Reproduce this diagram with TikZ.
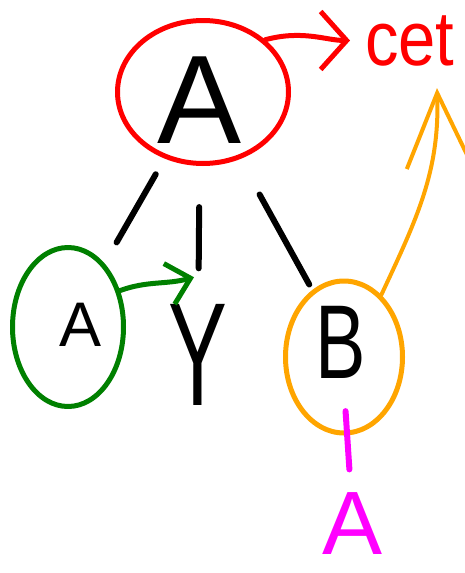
\documentclass[tikz,border=0pt]{standalone}
\usepackage{fontspec}
\setmainfont{Liberation Sans}
\usetikzlibrary{arrows.meta,calc,shapes.geometric}
\definecolor{ringred}{RGB}{255,0,0}
\definecolor{ringgreen}{RGB}{0,128,0}
\definecolor{ringorange}{RGB}{255,165,0}
\definecolor{linkpink}{RGB}{255,0,255}

\begin{document}
\begin{tikzpicture}[x=1pt,y=1pt,line cap=round,line join=round,
    letter/.style={inner sep=0pt,font=\fontsize{#1}{#1}\selectfont},
    ring/.style={ellipse,draw=#1,line width=5pt,inner sep=0pt},
    stroke/.style={line width=6pt},
    barb/.style 2 args={-{Straight Barb[length=#1,width=#2]}}]
  \useasboundingbox (0,0) rectangle (464,-573);
  % letters
  \node[letter=126] (headA) at (200,-100) {A};
  \node[letter=63] (leftA) at (81,-325) {A};
  \node[letter=147] (midY) at (198,-355) {\scalebox{0.6}[1]{Y}};
  \node[letter=105] (rightB) at (341,-342) {\scalebox{0.72}[1]{B}};
  \node[letter=90,text=linkpink] (tailA) at (353,-524) {A};
  \node[letter=77,anchor=base west,text=ringred] (setText) at (365,-65) {\scalebox{0.87}[1]{cet}};
  % rings
  \node[ring=ringred,minimum width=171pt,minimum height=143pt] (headRing) at (203,-92) {};
  \node[ring=ringgreen,minimum width=111pt,minimum height=159pt] (leftRing) at (68,-327) {};
  \node[ring=ringorange,minimum width=117pt,minimum height=152pt] (rightRing) at (344,-357) {};
  % tree edges
  \draw[stroke] ($(headRing)!0.35!(leftRing)$) -- ($(headRing)!0.64!(leftRing)$);
  \draw[stroke] ($(headA)!0.42!(midY)$) -- ($(headA)!0.66!(midY)$);
  \draw[stroke] ($(headRing)!0.41!(rightB)$) -- ($(headRing)!0.77!(rightB)$);
  \draw[stroke,linkpink] ($(rightB)!0.38!(tailA)$) -- ($(rightB)!0.70!(tailA)$);
  % arrows
  \coordinate (greenTip) at ($(midY.north)+(-4,27)$);
  \coordinate (orangeTip) at ($(setText.base west)+(72,-23)$);
  \draw[ringred,line width=5pt,barb={26pt}{58pt},shorten >=15pt]
    (headRing.40) to[out=15,in=180] (setText.west);
  \draw[ringgreen,line width=5pt,barb={22pt}{42pt}]
    (leftRing.35) to[out=20,in=195] (greenTip);
  \draw[ringorange,line width=4pt,barb={75pt}{66pt}]
    (rightRing.59) to[out=65,in=-88] (orangeTip);
\end{tikzpicture}
\end{document}
